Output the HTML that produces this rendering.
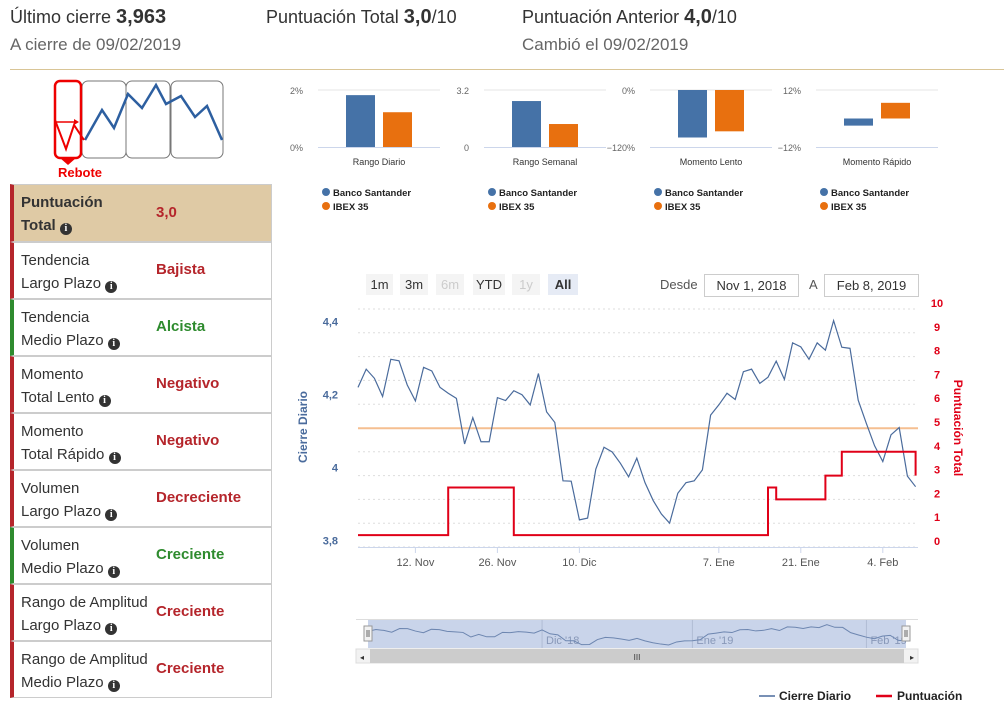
<!DOCTYPE html>
<html><head><meta charset="utf-8">
<style>
body{margin:0;width:1004px;height:728px;overflow:hidden;background:#fff;font-family:"Liberation Sans",sans-serif;position:relative;color:#333}
.abs{position:absolute}
.hd{font-size:18px;color:#333;white-space:nowrap}
.hd b{font-size:20px}
.sub{font-size:17px;color:#666;white-space:nowrap}
.row{position:absolute;left:10px;width:262px;border:1px solid #ccc;border-left:4px solid #b5252b;box-sizing:border-box;background:#fff}
.row .l{position:absolute;left:7px;top:6px;font-size:15px;line-height:23px;color:#333}
.row .v{position:absolute;left:142px;font-size:15px;font-weight:bold;color:#b5252b}
.g{border-left-color:#2e8b2e}.g .v{color:#2e8b2e}
.i{display:inline-block;width:12px;height:12px;border-radius:50%;background:#333;color:#fff;font-size:10px;line-height:12px;text-align:center;font-weight:bold;font-family:"Liberation Serif",serif;vertical-align:-1px}
.btn{position:absolute;top:274px;height:21px;background:#f4f4f4;font-size:13px;line-height:21px;text-align:center;color:#333}
.inp{position:absolute;top:274px;height:21px;border:1px solid #ccc;font-size:13px;line-height:21px;text-align:center;background:#fff}
</style></head><body>
<div class="abs hd" style="left:10px;top:6px">Último cierre <b>3,963</b></div>
<div class="abs sub" style="left:10px;top:35px">A cierre de 09/02/2019</div>
<div class="abs hd" style="left:266px;top:6px">Puntuación Total <b>3,0</b>/10</div>
<div class="abs hd" style="left:522px;top:6px">Puntuación Anterior <b>4,0</b>/10</div>
<div class="abs sub" style="left:522px;top:35px">Cambió el 09/02/2019</div>
<div class="abs" style="left:10px;top:69px;width:994px;height:1px;background:#d9c596"></div>

<svg class="abs" style="left:0;top:70px" width="280" height="115">
<rect x="82" y="11" width="44" height="77" rx="6" fill="none" stroke="#777"/>
<rect x="126" y="11" width="44" height="77" rx="6" fill="none" stroke="#777"/>
<rect x="171" y="11" width="52" height="77" rx="6" fill="none" stroke="#777"/>
<polyline points="85,70 102,40 114,58 128,24 142,38 156,15 166,34 181,26 195,47 207,36 222,70" fill="none" stroke="#2d5fa0" stroke-width="2.5"/>
<polyline points="55,50 66,79 74,55 84,70" fill="none" stroke="#e00" stroke-width="2"/>
<line x1="56" y1="52" x2="76" y2="52" stroke="#e00" stroke-width="1.5"/>
<polygon points="74,49 79,52 74,55" fill="#e00"/>
<rect x="55" y="11" width="26" height="77" rx="5" fill="none" stroke="#e00" stroke-width="2.5"/>
<polygon points="60,88 76,88 68,95" fill="#e00"/>
<text x="80" y="107" font-size="13" font-weight="bold" fill="#e00" text-anchor="middle">Rebote</text>
</svg>

<div class="row" style="top:184px;height:58px;background:#dfcaa5"><div class="l" style="font-weight:bold">Puntuación<br>Total <span class="i">i</span></div><div class="v" style="top:19px">3,0</div></div>
<div class="row" style="top:242px;height:57px"><div class="l">Tendencia<br>Largo Plazo <span class="i">i</span></div><div class="v" style="top:18px">Bajista</div></div>
<div class="row g" style="top:299px;height:57px"><div class="l">Tendencia<br>Medio Plazo <span class="i">i</span></div><div class="v" style="top:18px">Alcista</div></div>
<div class="row" style="top:356px;height:57px"><div class="l">Momento<br>Total Lento <span class="i">i</span></div><div class="v" style="top:18px">Negativo</div></div>
<div class="row" style="top:413px;height:57px"><div class="l">Momento<br>Total Rápido <span class="i">i</span></div><div class="v" style="top:18px">Negativo</div></div>
<div class="row" style="top:470px;height:57px"><div class="l">Volumen<br>Largo Plazo <span class="i">i</span></div><div class="v" style="top:18px">Decreciente</div></div>
<div class="row g" style="top:527px;height:57px"><div class="l">Volumen<br>Medio Plazo <span class="i">i</span></div><div class="v" style="top:18px">Creciente</div></div>
<div class="row" style="top:584px;height:57px"><div class="l">Rango de Amplitud<br>Largo Plazo <span class="i">i</span></div><div class="v" style="top:18px">Creciente</div></div>
<div class="row" style="top:641px;height:57px"><div class="l">Rango de Amplitud<br>Medio Plazo <span class="i">i</span></div><div class="v" style="top:18px">Creciente</div></div>

<svg class="abs" style="left:0;top:0" width="1004" height="728" id="sv"></svg>

<div class="btn" style="left:366px;width:27px">1m</div>
<div class="btn" style="left:400px;width:28px">3m</div>
<div class="btn" style="left:436px;width:28px;color:#ccc">6m</div>
<div class="btn" style="left:473px;width:32px">YTD</div>
<div class="btn" style="left:512px;width:28px;color:#ccc">1y</div>
<div class="btn" style="left:548px;width:30px;background:#e6ebf5;font-weight:bold">All</div>
<div class="abs" style="left:660px;top:277px;font-size:13px;color:#555">Desde</div>
<div class="inp" style="left:704px;width:93px">Nov 1, 2018</div>
<div class="abs" style="left:809px;top:277px;font-size:13px;color:#555">A</div>
<div class="inp" style="left:824px;width:93px">Feb 8, 2019</div>

<script>
const NS='http://www.w3.org/2000/svg';
const sv=document.getElementById('sv');
function mk(t,a,p){const e=document.createElementNS(NS,t);for(const k in a)e.setAttribute(k,a[k]);(p||sv).appendChild(e);return e;}
function tx(x,y,s,a){const e=mk('text',Object.assign({x:x,y:y,'font-family':'Liberation Sans, sans-serif'},a));e.textContent=s;return e;}

// ---- mini bar charts data ----
const miniTitles=['Rango Diario','Rango Semanal','Momento Lento','Momento Rápido'];
const miniMax=[2,3.2,0,12];
const miniMin=[0,0,-120,-12];
const miniTopLabels=['2%','3.2','0%','12%'];
const miniBottomLabels=['0%','0','−120%','−12%'];
const santanderVals=[1.82,2.58,-100,-3];
const ibexVals=[1.22,1.29,-87,6.6];

miniTitles.forEach((t,k)=>{
  const ox=166*k;
  const top=90,bot=147;
  const y=v=>bot-(v-miniMin[k])/(miniMax[k]-miniMin[k])*(bot-top);
  mk('line',{x1:318+ox,x2:440+ox,y1:top,y2:top,stroke:'#e6e6e6'});
  mk('line',{x1:318+ox,x2:440+ox,y1:bot+0.5,y2:bot+0.5,stroke:'#ccd6eb'});
  tx(303+ox,top+4,miniTopLabels[k],{'font-size':9,fill:'#666','text-anchor':'end'});
  tx(303+ox,bot+4,miniBottomLabels[k],{'font-size':9,fill:'#666','text-anchor':'end'});
  const zero=Math.min(Math.max(y(0),top),bot);
  const vals=[santanderVals[k],ibexVals[k]],cols=['#4572a7','#e8700f'];
  vals.forEach((v,j)=>{
    const yy=y(v);
    const b=mk('rect',{x:346+ox+37*j,width:29,y:Math.min(yy,zero),height:Math.max(1,Math.abs(yy-zero)),fill:cols[j]});
    
    
  });
  tx(379+ox,165,t,{'font-size':9,fill:'#333','text-anchor':'middle'});
  mk('circle',{cx:326+ox,cy:192,r:4,fill:'#4572a7'});
  tx(333+ox,196,'Banco Santander',{'font-size':9.5,'font-weight':'bold',fill:'#222'});
  mk('circle',{cx:326+ox,cy:206,r:4,fill:'#e8700f'});
  tx(333+ox,210,'IBEX 35',{'font-size':9.5,'font-weight':'bold',fill:'#222'});
});

// ---- main chart data ----
const closes=[4.22,4.27,4.245,4.195,4.297,4.293,4.227,4.183,4.275,4.265,4.22,4.204,4.19,4.065,4.137,4.071,4.071,4.192,4.184,4.211,4.2,4.172,4.258,4.153,4.124,3.964,3.963,3.857,3.862,3.996,4.056,4.043,4.012,3.975,4.026,3.959,3.91,3.873,3.848,3.93,3.959,3.964,3.994,4.144,4.172,4.204,4.187,4.263,4.27,4.231,4.248,4.292,4.242,4.342,4.331,4.297,4.342,4.322,4.403,4.33,4.327,4.185,4.121,4.06,4.017,4.09,4.11,3.977,3.948];
const scores=[0.5,0.5,0.5,0.5,0.5,0.5,0.5,0.5,0.5,0.5,0.5,2.5,2.5,2.5,2.5,2.5,2.5,2.5,2.5,0.5,0.5,0.5,0.5,0.5,0.5,0.5,0.5,0.5,0.5,0.5,0.5,0.5,0.5,0.5,0.5,0.5,0.5,0.5,0.5,0.5,0.5,0.5,0.5,0.5,0.5,0.5,0.5,0.5,0.5,0.5,2.5,2,2,2,2,2,2,3,3,4,4,4,4,4,4,4,4,4,3];
const refLevel=4.108;
const leftTicks=[3.8,4,4.2,4.4];
const leftTickLabels=['3,8','4','4,2','4,4'];
const rightTicks=[0,1,2,3,4,5,6,7,8,9,10];
const xTickIdx=[7,17,27,44,54,64];
const xTickLabels=['12. Nov','26. Nov','10. Dic','7. Ene','21. Ene','4. Feb'];

const X0=358,STEP=8.2,PL=358,PR=918;
const xS=i=>X0+i*STEP;
const yL=v=>540.7-(v-3.8)*365;
const yR=v=>547-v*23.8;

rightTicks.forEach(v=>{
  const g=mk('line',{x1:PL,x2:PR,y1:yR(v),y2:yR(v),stroke:'#ddd','stroke-dasharray':'2,3'});
  
  
  tx(937,yR(v)-2,String(v),{'font-size':11,'font-weight':'bold',fill:'#e00018','text-anchor':'middle'});
});
leftTicks.forEach((v,k)=>{
  tx(338,yL(v)+4,leftTickLabels[k],{'font-size':11,'font-weight':'bold',fill:'#4a6b9c','text-anchor':'end'});
});
mk('line',{x1:PL,x2:PR,y1:547.5,y2:547.5,stroke:'#ccd6eb'});
xTickIdx.forEach((i,k)=>{
  mk('line',{x1:xS(i),x2:xS(i),y1:547,y2:553,stroke:'#ccd6eb'});
  tx(xS(i),566,xTickLabels[k],{'font-size':11,fill:'#555','text-anchor':'middle'});
});
const t1=tx(0,0,'Cierre Diario',{'font-size':12,'font-weight':'bold',fill:'#4a6b9c','text-anchor':'middle',transform:'translate(307,427) rotate(-90)'});


const t2=tx(0,0,'Puntuación Total',{'font-size':12,'font-weight':'bold',fill:'#e00018','text-anchor':'middle',transform:'translate(954,428) rotate(90)'});



const ref=mk('line',{x1:PL,x2:PR,y1:yL(refLevel),y2:yL(refLevel),stroke:'#f5bf91','stroke-width':2});



const pl=mk('polyline',{points:closes.map((v,i)=>xS(i)+','+yL(v)).join(' '),fill:'none',stroke:'#4a6b9c','stroke-width':1.2});



let sp=[];
scores.forEach((v,i)=>{ if(i>0) sp.push(xS(i)+','+yR(scores[i-1])); sp.push(xS(i)+','+yR(v)); });
sp.unshift(PL+','+yR(scores[0]));
const sl=mk('polyline',{points:sp.join(' '),fill:'none',stroke:'#e00018','stroke-width':2});



// ---- navigator ----
const NL=368,NR=906,NT=620,NB=648;
mk('line',{x1:356,x2:918,y1:NT-0.5,y2:NT-0.5,stroke:'#ddd'});
const nav=mk('rect',{x:NL,y:NT,width:NR-NL,height:NB-NT,fill:'#c9d4ea'});


const nx=i=>NL+i*(NR-NL)/(closes.length-1);
const ny=v=>NT+4+(4.42-v)*(NB-NT-6)/0.6;
[22,41,63].forEach((i,k)=>{
  mk('line',{x1:nx(i),x2:nx(i),y1:NT,y2:NB,stroke:'#b0bcd4'});
  tx(nx(i)+4,NB-4,["Dic '18","Ene '19","Feb '19"][k],{'font-size':11,fill:'#8898b8'});
});
mk('polyline',{points:closes.map((v,i)=>nx(i)+','+ny(v)).join(' '),fill:'none',stroke:'#6d86b0','stroke-width':1});
[NL,NR].forEach(x=>{
  const h=mk('rect',{x:x-4,y:626,width:8,height:15,fill:'#f2f2f2',stroke:'#999'});
  
  
  mk('line',{x1:x-1,x2:x-1,y1:630,y2:637,stroke:'#666'});
  mk('line',{x1:x+1,x2:x+1,y1:630,y2:637,stroke:'#666'});
});
mk('rect',{x:356,y:649,width:562,height:14,fill:'#f2f2f2',stroke:'#ddd'});
const sb=mk('rect',{x:370,y:649,width:534,height:14,fill:'#cccccc'});


tx(637,660,'III',{'font-size':8,fill:'#333','text-anchor':'middle'});
tx(362,660,'◂',{'font-size':8,fill:'#333','text-anchor':'middle'});
tx(912,660,'▸',{'font-size':8,fill:'#333','text-anchor':'middle'});

// ---- legend ----
mk('line',{x1:759,x2:775,y1:696,y2:696,stroke:'#4a6b9c','stroke-width':1.5});
tx(779,700,'Cierre Diario',{'font-size':12,'font-weight':'bold',fill:'#222'});
mk('line',{x1:876,x2:892,y1:696,y2:696,stroke:'#e00018','stroke-width':2.5});
tx(897,700,'Puntuación',{'font-size':12,'font-weight':'bold',fill:'#222'});
</script>
</body></html>
